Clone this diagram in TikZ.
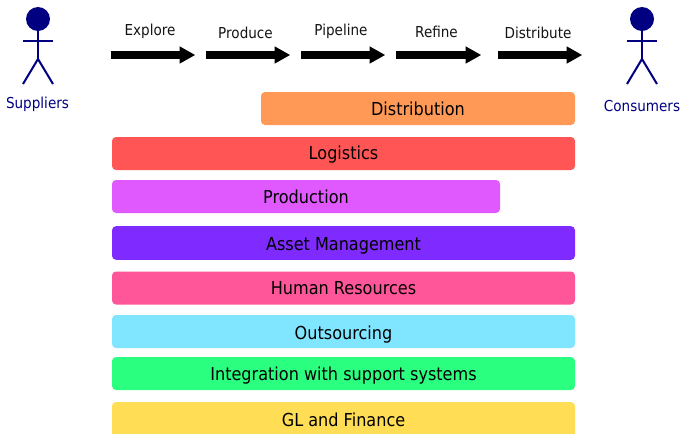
\documentclass[tikz,border=0pt]{standalone}
\usepackage{fontspec}
\setmainfont[FakeStretch=0.9]{DejaVu Sans}
\usetikzlibrary{arrows.meta}
\definecolor{actor}{HTML}{000080}
\tikzset{
  bar/.style={rounded corners=3pt,inner sep=0pt,minimum height=24.75pt,text height=14.1pt,text depth=3pt,text=black,font=\fontsize{13.4pt}{15pt}\selectfont},
  stage/.style={line width=6pt,-{Triangle[length=11.5pt,width=13pt,line width=0pt]},shorten >=0pt},
  stagelabel/.style={font=\fontsize{11.3pt}{13pt}\selectfont,text=black!92},
  limb/.style={actor,line width=1.5pt},
  actorname/.style={text=actor,font=\fontsize{11.3pt}{13pt}\selectfont}
}
\begin{document}
\begin{tikzpicture}[x=0.75pt,y=-0.75pt]
\useasboundingbox (0,0) rectangle (681,433);
\clip (0,0) rectangle (681,433);
% stage arrows
\foreach \n/\a/\b/\t/\lx/\ly in {e/110.5/195/Explore/150/31.7,p/206/290/Produce/245.5/33,l/301/385/Pipeline/341/31.7,r/396/481/Refine/436.5/31.7,d/498/582/Distribute/538/33}{
  \coordinate (\n s) at (\a,55);
  \coordinate (\n t) at (\b,55);
  \draw[stage] (\n s) -- (\n t);
  \node[stagelabel] (\n label) at (\lx,\ly) {\t};
}
% bars
\node[bar,fill={rgb,255:red,255;green,153;blue,85},minimum width=235.5pt] (dist) at (418,108.5) {Distribution};
\node[bar,text height=11.85pt,fill={rgb,255:red,255;green,85;blue,85},minimum width=347.25pt] (log) at (343.5,153.5) {Logistics};
\node[bar,fill={rgb,255:red,224;green,89;blue,255},minimum width=291pt] (prod) at (306,196.5) {Production};
\node[bar,fill={rgb,255:red,127;green,42;blue,255},minimum width=347.25pt,minimum height=25.2pt] (asset) at (343.5,243) {Asset Management};
\node[bar,text height=12.6pt,fill={rgb,255:red,255;green,85;blue,153},minimum width=347.25pt] (hr) at (343.5,288) {Human Resources};
\node[bar,text height=15.6pt,fill={rgb,255:red,128;green,229;blue,255},minimum width=347.25pt] (out) at (343.5,331.5) {Outsourcing};
\node[bar,fill={rgb,255:red,42;green,255;blue,128},minimum width=347.25pt] (int) at (343.5,373.5) {Integration with support systems};
\node[bar,fill={rgb,255:red,255;green,221;blue,85},minimum width=347.25pt,minimum height=30pt] (gl) at (343.5,422) {};
\node[font=\fontsize{13.4pt}{15pt}\selectfont,text=black] (gllabel) at (343.5,419.5) {GL and Finance};
% actors
\foreach \n/\x/\t/\ty in {sup/38/Suppliers/104.3,con/642/Consumers/106}{
  \node[circle,fill=actor,inner sep=0pt,minimum size=18pt] (\n head) at (\x,19) {};
  \coordinate (\n hip) at (\x,59);
  \coordinate (\n al) at (\x-15,41);
  \coordinate (\n ar) at (\x+15,41);
  \coordinate (\n ll) at (\x-15,84);
  \coordinate (\n lr) at (\x+15,84);
  \draw[limb] (\n head) -- (\n hip);
  \draw[limb] (\n al) -- (\n ar);
  \draw[limb] (\n ll) -- (\n hip) -- (\n lr);
  \node[actorname] (\n name) at (\ifnum\x=38 37.5\else 642\fi,\ty) {\t};
}
\end{tikzpicture}
\end{document}
